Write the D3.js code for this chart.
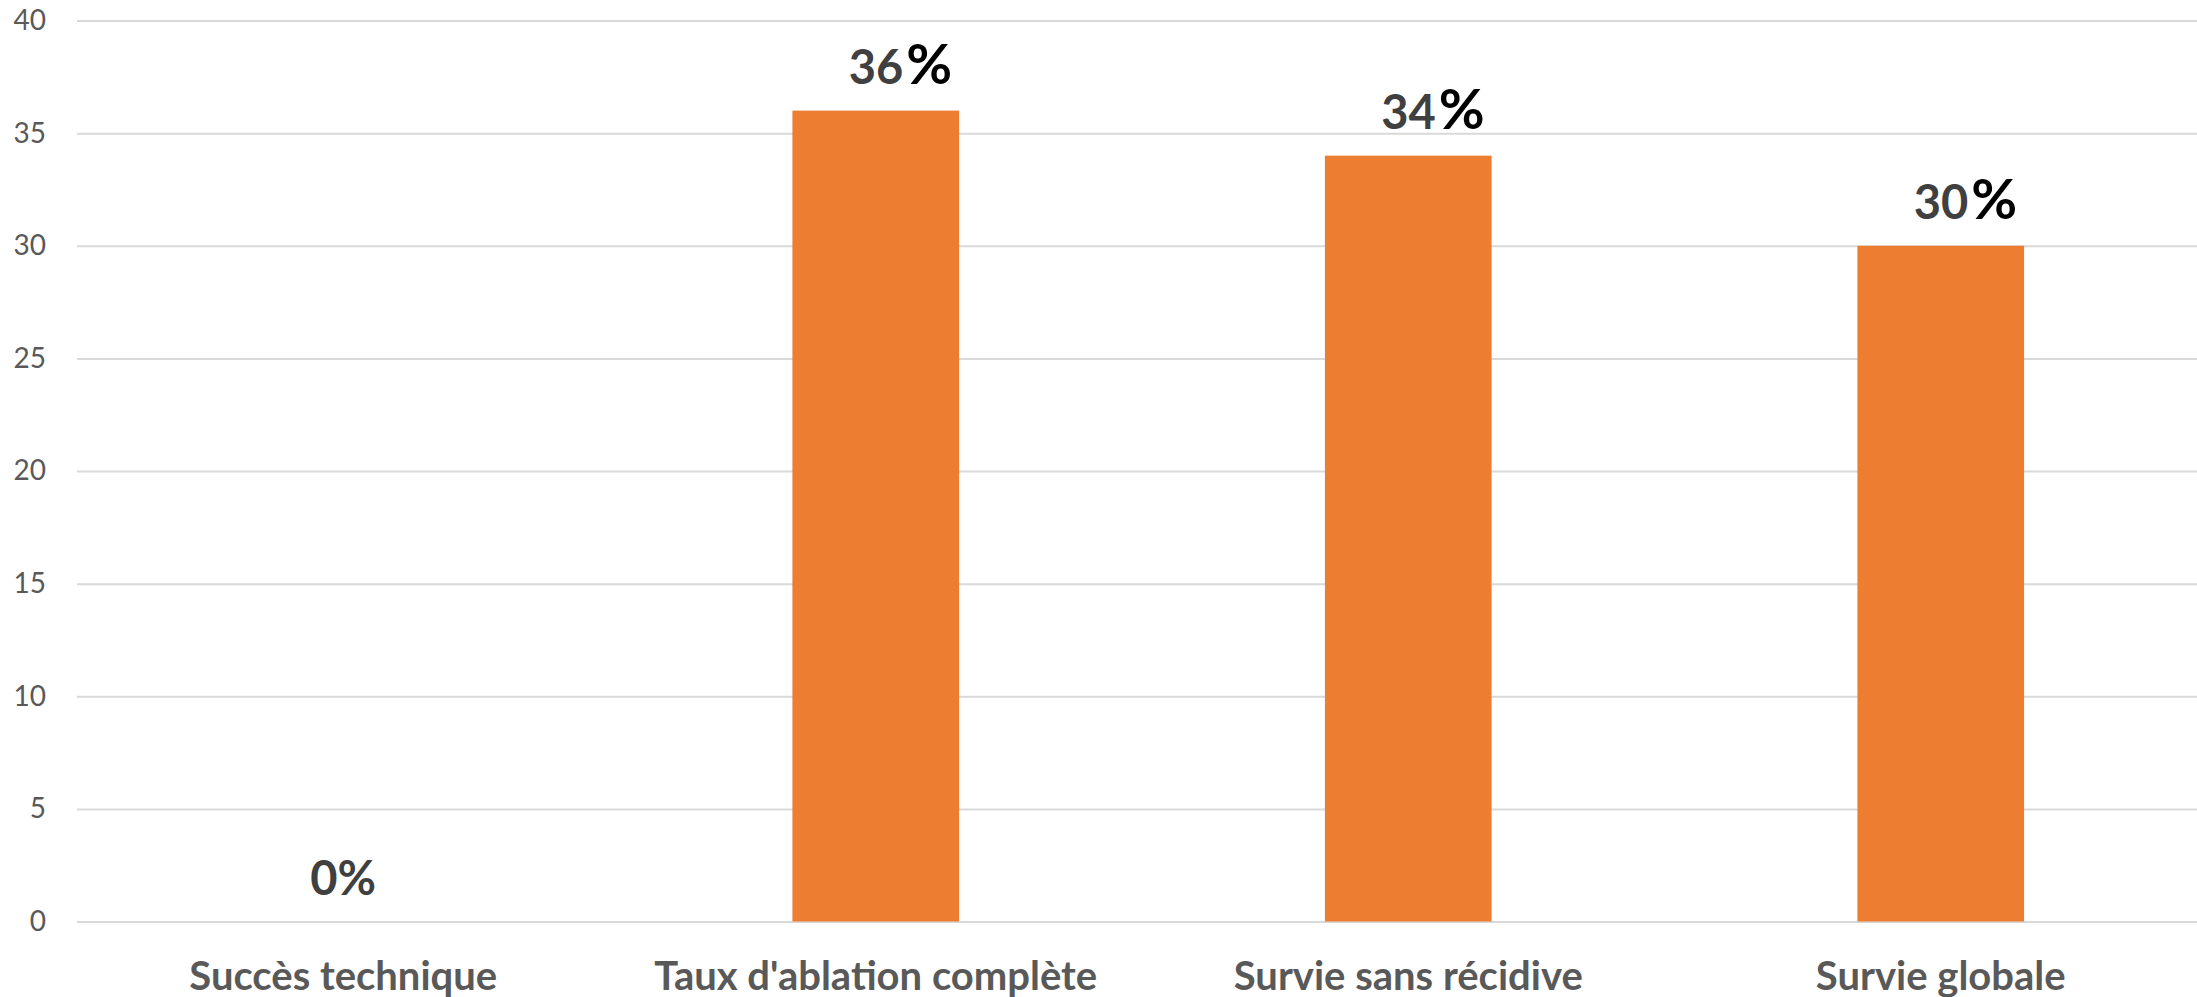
<!DOCTYPE html>
<html lang="fr">
<head>
<meta charset="UTF-8">
<title>Résultats</title>
<script src="https://cdn.jsdelivr.net/npm/d3@7/dist/d3.min.js"></script>
<style>
  body { margin: 0; background: #fff; }
  svg { display: block; }
</style>
</head>
<body>
<svg width="2197" height="997"></svg>
<script>
var categories = ["Succès technique", "Taux d'ablation complète", "Survie sans récidive", "Survie globale"]
var values = [0, 36, 34, 30]
var yTicks = [0, 5, 10, 15, 20, 25, 30, 35, 40]

var svg = d3.select('svg')
var width = +svg.attr('width')
var font = 'Lato, "Open Sans", sans-serif'

// le graphique est coupé à droite : la zone de tracé va au-delà de 2197
var plotLeft = 77, plotRight = 2207
var plotTop = 20.5, plotBottom = 921.5

var x = d3.scaleBand()
    .domain(categories)
    .range([plotLeft, plotRight])
    .paddingInner(0.687)
    .paddingOuter(0.3435)

var y = d3.scaleLinear()
    .domain([0, 40])
    .range([plotBottom, plotTop])

// axe Y + grille
var axisY = d3.axisLeft(y)
    .tickValues(yTicks)
    .tickSize(-(width - plotLeft))
    .tickPadding(31)
var gy = svg.append('g').attr('transform', 'translate(' + plotLeft + ',0)').call(axisY)
gy.select('.domain').remove()
gy.selectAll('.tick line').attr('stroke', '#d9d9d9').attr('stroke-width', 2)
gy.selectAll('.tick text')
    .attr('fill', '#595959')
    .style('font-family', font)
    .style('font-size', '28px')

// barres
svg.selectAll('rect.bar').data(values).enter().append('rect')
    .attr('class', 'bar')
    .attr('x', function (d, i) { return x(categories[i]) })
    .attr('y', function (d) { return y(d) })
    .attr('width', x.bandwidth())
    .attr('height', function (d) { return y(0) - y(d) })
    .attr('fill', '#ED7D31')

// étiquettes de valeur
var labels = svg.selectAll('text.val').data(values).enter().append('text')
    .attr('class', 'val')
    .attr('y', function (d) { return y(d) - 27 })
    .style('font-family', font)
    .style('font-weight', 'bold')
    .style('font-size', '47px')
    .attr('fill', '#404040')

labels.each(function (d, i) {
    var t = d3.select(this)
    var cx = x(categories[i]) + x.bandwidth() / 2
    if (d === 0) {
        // "0%" tout en gris, centré
        t.attr('x', cx).attr('text-anchor', 'middle').text(d + '%')
    } else {
        t.attr('x', cx - 27).attr('text-anchor', 'start')
        t.append('tspan').text(d)
        t.append('tspan').attr('dx', 3).attr('fill', '#000').style('font-size', '56px').text('%')
    }
})

// étiquettes de catégorie
svg.selectAll('text.cat').data(categories).enter().append('text')
    .attr('class', 'cat')
    .attr('x', function (d) { return x(d) + x.bandwidth() / 2 })
    .attr('y', 990)
    .attr('text-anchor', 'middle')
    .attr('fill', '#595959')
    .style('font-family', font)
    .style('font-weight', 'bold')
    .style('font-size', '40px')
    .text(function (d) { return d })
</script>
</body>
</html>
